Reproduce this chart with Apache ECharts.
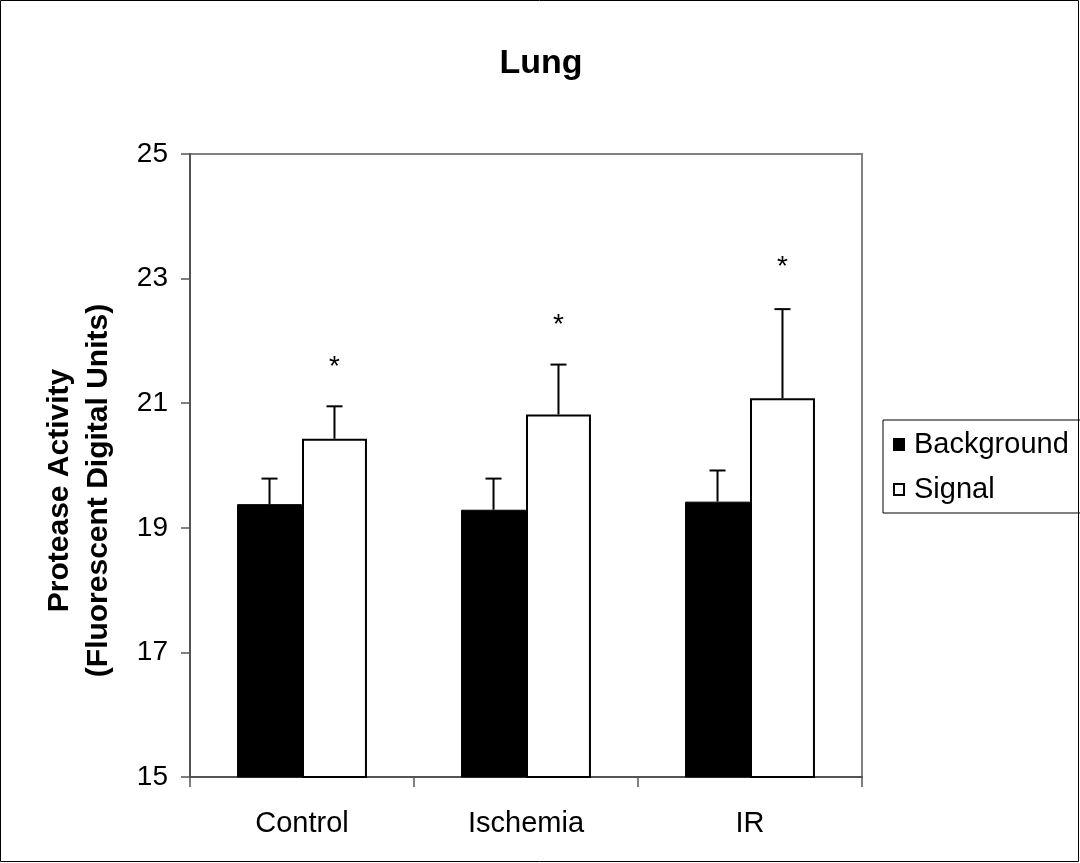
<!DOCTYPE html>
<html>
<head>
<meta charset="utf-8">
<script src="https://cdn.jsdelivr.net/npm/echarts@6/dist/echarts.min.js"></script>
<style>
html,body{margin:0;padding:0;background:#fff;}
#chart{width:1080px;height:863px;}
</style>
</head>
<body>
<div id="chart"></div>
<script>
const categories = ['Control', 'Ischemia', 'IR'];
const backgroundValues = [19.38, 19.29, 19.42];
const backgroundErr = [0.41, 0.50, 0.50];
const signalValues = [20.43, 20.82, 21.08];
const signalErr = [0.52, 0.80, 1.43];
const starValues = [21.68, 22.35, 23.28];
const yTicks = [15, 17, 19, 21, 23, 25];

const FONT = '"Liberation Sans", Arial, sans-serif';
const GAP = 0.42;

function errorSeries(name, values, errs, side) {
  return {
    type: 'custom',
    name: name + ' err',
    z: 5,
    silent: true,
    data: values.map((v, i) => [i, v, v + errs[i]]),
    renderItem: function (params, api) {
      const i = api.value(0);
      const base = api.coord([i, api.value(1)]);
      const top = api.coord([i, api.value(2)]);
      const catW = api.size([1, 0])[0];
      const barW = catW * (1 - GAP) / 2;
      const x = base[0] + side * barW / 2;
      const cap = 8;
      const st = { stroke: '#000', lineWidth: 2 };
      return {
        type: 'group',
        children: [
          { type: 'line', shape: { x1: x, y1: base[1], x2: x, y2: top[1] }, style: st },
          { type: 'line', shape: { x1: x - cap, y1: top[1], x2: x + cap, y2: top[1] }, style: st }
        ]
      };
    }
  };
}

const chart = echarts.init(document.getElementById('chart'));
chart.setOption({
  backgroundColor: '#fff',
  animation: false,
  textStyle: { fontFamily: FONT },
  title: {
    text: 'Lung',
    left: 536, top: 42, textAlign: 'center',
    textStyle: { fontSize: 34, fontWeight: 'bold', color: '#000', fontFamily: FONT }
  },
  legend: {
    orient: 'vertical',
    left: 883, top: 420,
    data: ['Background', 'Signal'],
    icon: 'rect',
    itemWidth: 10, itemHeight: 11,
    itemGap: 16,
    padding: [10, 40, 9, 10],
    borderColor: '#000', borderWidth: 1,
    textStyle: { fontSize: 29, color: '#000', fontFamily: FONT, padding: [0, 0, 0, 5] }
  },
  grid: { left: 190, right: 218, top: 154, bottom: 86, show: true, borderColor: '#808080', borderWidth: 2, backgroundColor: '#fff' },
  xAxis: {
    type: 'category',
    data: categories,
    axisLine: { lineStyle: { color: '#444', width: 1.5 } },
    axisTick: { show: true, length: 10, lineStyle: { color: '#555', width: 1.5 } },
    axisLabel: { fontSize: 29, color: '#000', margin: 32, fontFamily: FONT }
  },
  yAxis: {
    type: 'value',
    min: yTicks[0], max: yTicks[yTicks.length - 1], interval: 2,
    name: 'Protease Activity\n(Fluorescent Digital Units)',
    nameLocation: 'middle',
    nameGap: 72,
    nameRotate: 90,
    nameTextStyle: { fontSize: 30, fontWeight: 'bold', color: '#000', lineHeight: 39, fontFamily: FONT, padding: [0, 50, 0, 0] },
    splitLine: { show: false },
    axisLine: { show: true, lineStyle: { color: '#444', width: 1.5 } },
    axisTick: { show: true, length: 9, lineStyle: { color: '#555', width: 1.5 } },
    axisLabel: { fontSize: 28, color: '#000', margin: 22, fontFamily: FONT }
  },
  graphic: [
    { type: 'rect', shape: { x: 0.5, y: 0.5, width: 1078, height: 861 }, style: { fill: null, stroke: '#000', lineWidth: 1 }, silent: true, z: 100 }
  ],
  series: [
    {
      name: 'Background', type: 'bar', data: backgroundValues,
      barGap: '0%', barCategoryGap: (GAP * 100) + '%',
      itemStyle: { color: '#000', borderColor: '#000', borderWidth: 1 }
    },
    {
      name: 'Signal', type: 'bar', data: signalValues,
      barGap: '0%', barCategoryGap: (GAP * 100) + '%',
      itemStyle: { color: '#fff', borderColor: '#000', borderWidth: 2 }
    },
    errorSeries('Background', backgroundValues, backgroundErr, -1),
    errorSeries('Signal', signalValues, signalErr, 1),
    {
      name: 'stars', type: 'custom', silent: true, z: 6,
      data: starValues.map((v, i) => [i, v]),
      renderItem: function (params, api) {
        const p = api.coord([api.value(0), api.value(1)]);
        const catW = api.size([1, 0])[0];
        const barW = catW * (1 - GAP) / 2;
        return {
          type: 'text',
          x: p[0] + barW / 2, y: p[1] + 6,
          style: { text: '*', fontSize: 28, fontFamily: FONT, fill: '#000', textAlign: 'center', textVerticalAlign: 'middle' }
        };
      }
    }
  ]
});
</script>
</body>
</html>
